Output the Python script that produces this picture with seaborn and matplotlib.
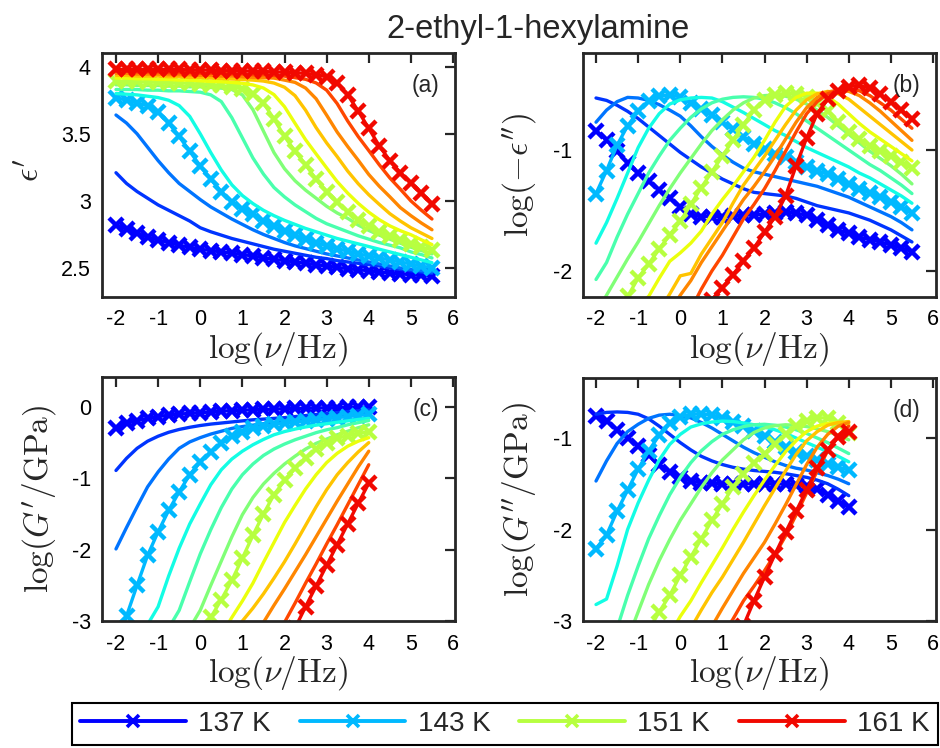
import numpy as np
import pandas as pd
import matplotlib
matplotlib.use("Agg")
import matplotlib.pyplot as plt
import seaborn as sns
from matplotlib.lines import Line2D

NA = np.nan

# ---------------- data ----------------
temperatures = [137, 139, 141, 143, 145, 147, 149, 151, 153, 155, 157, 159, 161]
marked_temperatures = [137, 143, 151, 161]
legend_labels = ["137 K", "143 K", "151 K", "161 K"]

logf_eps = [-2.0, -1.75, -1.5, -1.25, -1.0, -0.75, -0.5, -0.25, 0.0, 0.25, 0.5, 0.75,
            1.0, 1.25, 1.5, 1.75, 2.0, 2.25, 2.5, 2.75, 3.0, 3.25, 3.5, 3.75, 4.0,
            4.25, 4.5, 4.75, 5.0, 5.25, 5.5]
logf_G = [-2.0, -1.75, -1.5, -1.25, -1.0, -0.75, -0.5, -0.25, 0.0, 0.25, 0.5, 0.75,
          1.0, 1.25, 1.5, 1.75, 2.0, 2.25, 2.5, 2.75, 3.0, 3.25, 3.5, 3.75, 4.0]

# (a) eps'
eps1_137 = [2.82, 2.79, 2.76, 2.73, 2.71, 2.69, 2.67, 2.655, 2.64, 2.63, 2.62, 2.61, 2.60, 2.59, 2.575, 2.565,
            2.555, 2.545, 2.535, 2.525, 2.515, 2.505, 2.495, 2.487, 2.48, 2.47, 2.463, 2.457, 2.45, 2.445, 2.44]
eps1_139 = [3.21, 3.13, 3.07, 3.02, 2.97, 2.93, 2.89, 2.85, 2.80, 2.77, 2.745, 2.72, 2.70, 2.68, 2.66, 2.64,
            2.625, 2.61, 2.595, 2.58, 2.57, 2.555, 2.545, 2.535, 2.525, 2.515, 2.50, 2.49, 2.48, 2.47, 2.46]
eps1_141 = [3.64, 3.58, 3.50, 3.40, 3.30, 3.21, 3.13, 3.07, 3.01, 2.955, 2.91, 2.865, 2.825, 2.785, 2.75, 2.72,
            2.69, 2.665, 2.645, 2.625, 2.605, 2.59, 2.575, 2.56, 2.545, 2.53, 2.515, 2.50, 2.49, 2.48, 2.47]
eps1_143 = [3.77, 3.75, 3.73, 3.71, 3.66, 3.58, 3.48, 3.37, 3.26, 3.16, 3.07, 2.99, 2.94, 2.90, 2.85, 2.81,
            2.775, 2.745, 2.715, 2.69, 2.665, 2.645, 2.625, 2.605, 2.59, 2.575, 2.56, 2.545, 2.53, 2.515, 2.50]
eps1_145 = [3.80, 3.795, 3.79, 3.78, 3.77, 3.75, 3.71, 3.63, 3.50, 3.36, 3.23, 3.12, 3.04, 2.98, 2.93, 2.89,
            2.855, 2.825, 2.795, 2.77, 2.745, 2.72, 2.70, 2.68, 2.66, 2.64, 2.62, 2.60, 2.58, 2.56, 2.54]
eps1_147 = [3.83, 3.83, 3.83, 3.825, 3.825, 3.82, 3.82, 3.815, 3.81, 3.79, 3.74, 3.62, 3.47, 3.32, 3.20, 3.10,
            3.03, 2.97, 2.92, 2.87, 2.83, 2.80, 2.77, 2.74, 2.715, 2.69, 2.67, 2.65, 2.62, 2.60, 2.575]
eps1_149 = [3.865, 3.865, 3.86, 3.86, 3.86, 3.855, 3.855, 3.85, 3.85, 3.845, 3.84, 3.83, 3.79, 3.68, 3.52, 3.36,
            3.24, 3.15, 3.08, 3.02, 2.96, 2.91, 2.87, 2.82, 2.78, 2.745, 2.715, 2.685, 2.655, 2.63, 2.605]
eps1_151 = [3.89, 3.89, 3.89, 3.885, 3.885, 3.88, 3.88, 3.875, 3.87, 3.865, 3.86, 3.85, 3.835, 3.80, 3.73, 3.61,
            3.48, 3.37, 3.27, 3.16, 3.07, 2.99, 2.92, 2.86, 2.81, 2.77, 2.74, 2.71, 2.68, 2.655, 2.635]
eps1_153 = [3.915, 3.915, 3.91, 3.91, 3.905, 3.905, 3.90, 3.90, 3.895, 3.89, 3.888, 3.883, 3.876, 3.864, 3.841,
            3.792, 3.702, 3.578, 3.456, 3.35, 3.246, 3.144, 3.058, 2.982, 2.916, 2.86, 2.814, 2.778, 2.748,
            2.71, 2.675]
eps1_155 = [3.935, 3.935, 3.93, 3.93, 3.93, 3.925, 3.925, 3.92, 3.92, 3.915, 3.912, 3.908, 3.904, 3.90, 3.893,
            3.878, 3.847, 3.784, 3.676, 3.546, 3.432, 3.33, 3.222, 3.128, 3.046, 2.974, 2.905, 2.85, 2.80,
            2.76, 2.72]
eps1_157 = [3.95, 3.95, 3.945, 3.945, 3.945, 3.94, 3.94, 3.94, 3.935, 3.935, 3.93, 3.93, 3.925, 3.92, 3.918,
            3.915, 3.90, 3.883, 3.841, 3.761, 3.639, 3.513, 3.405, 3.303, 3.197, 3.109, 3.031, 2.95, 2.89,
            2.835, 2.785]
eps1_159 = [3.965, 3.965, 3.96, 3.96, 3.96, 3.955, 3.955, 3.955, 3.95, 3.95, 3.95, 3.945, 3.945, 3.94, 3.94,
            3.935, 3.93, 3.918, 3.906, 3.879, 3.825, 3.725, 3.595, 3.479, 3.375, 3.269, 3.171, 3.087, 3.0,
            2.93, 2.865]
eps1_161 = [3.98, 3.98, 3.98, 3.98, 3.98, 3.98, 3.98, 3.975, 3.975, 3.975, 3.97, 3.97, 3.97, 3.965, 3.965,
            3.96, 3.96, 3.955, 3.95, 3.94, 3.925, 3.88, 3.79, 3.67, 3.54, 3.41, 3.30, 3.21, 3.135, 3.06, 2.98]

# (b) log(-eps'')
eps2_137 = [-0.84, -0.92, -1.01, -1.11, -1.19, -1.26, -1.33, -1.40, -1.47, -1.53, -1.55, -1.55, -1.55, -1.545,
            -1.54, -1.535, -1.53, -1.52, -1.515, -1.52, -1.54, -1.58, -1.62, -1.66, -1.69, -1.72, -1.74, -1.76,
            -1.785, -1.81, -1.84]
eps2_139 = [-0.57, -0.59, -0.63, -0.68, -0.74, -0.81, -0.88, -0.95, -1.02, -1.08, -1.14, -1.19, -1.24, -1.28,
            -1.32, -1.35, -1.36, -1.37, -1.38, -1.40, -1.43, -1.46, -1.48, -1.50, -1.52, -1.55, -1.58, -1.62,
            -1.66, -1.71, -1.76]
eps2_141 = [-0.77, -0.67, -0.60, -0.565, -0.57, -0.59, -0.625, -0.67, -0.72, -0.80, -0.89, -0.97, -1.04, -1.10,
            -1.15, -1.18, -1.20, -1.22, -1.24, -1.26, -1.28, -1.30, -1.33, -1.36, -1.39, -1.43, -1.47, -1.51,
            -1.55, -1.60, -1.66]
eps2_143 = [-1.36, -1.17, -0.96, -0.80, -0.68, -0.595, -0.555, -0.545, -0.56, -0.61, -0.66, -0.71, -0.77, -0.83,
            -0.89, -0.95, -0.99, -1.03, -1.06, -1.10, -1.14, -1.17, -1.20, -1.24, -1.28, -1.32, -1.355, -1.39,
            -1.43, -1.47, -1.52]
eps2_145 = [-1.77, -1.60, -1.40, -1.19, -0.98, -0.82, -0.70, -0.62, -0.585, -0.57, -0.565, -0.57, -0.60, -0.645,
            -0.69, -0.74, -0.79, -0.84, -0.88, -0.93, -0.98, -1.02, -1.06, -1.10, -1.14, -1.19, -1.23, -1.28,
            -1.33, -1.38, -1.44]
eps2_147 = [-2.07, -1.93, -1.72, -1.53, -1.36, -1.19, -1.05, -0.92, -0.82, -0.73, -0.66, -0.61, -0.58, -0.565,
            -0.56, -0.565, -0.58, -0.61, -0.65, -0.70, -0.76, -0.82, -0.88, -0.94, -1.0, -1.06, -1.12, -1.17,
            -1.23, -1.29, -1.36]
eps2_149 = [-2.35, -2.20, -2.05, -1.90, -1.76, -1.61, -1.46, -1.32, -1.19, -1.07, -0.95, -0.84, -0.75, -0.67,
            -0.61, -0.57, -0.55, -0.545, -0.555, -0.58, -0.62, -0.67, -0.73, -0.80, -0.87, -0.94, -1.01, -1.07,
            -1.13, -1.20, -1.28]
eps2_151 = [NA, NA, -2.33, -2.21, -2.06, -1.94, -1.82, -1.70, -1.59, -1.45, -1.31, -1.18, -1.05, -0.92, -0.79,
            -0.67, -0.585, -0.545, -0.53, -0.535, -0.56, -0.61, -0.68, -0.77, -0.85, -0.91, -0.97, -1.01, -1.05,
            -1.10, -1.15]
eps2_153 = [NA, NA, NA, NA, -2.28, -2.21, -2.06, -1.92, -1.85, -1.77, -1.67, -1.53, -1.41, -1.30, -1.18, -1.06,
            -0.92, -0.77, -0.64, -0.565, -0.53, -0.53, -0.56, -0.62, -0.70, -0.78, -0.85, -0.91, -0.97, -1.03,
            -1.09]
eps2_155 = [NA, NA, NA, NA, NA, NA, -2.33, -2.19, -2.04, -2.02, -1.86, -1.73, -1.60, -1.44, -1.29, -1.17, -1.05,
            -0.92, -0.79, -0.67, -0.585, -0.535, -0.515, -0.535, -0.58, -0.65, -0.72, -0.79, -0.86, -0.93, -1.0]
eps2_157 = [NA, NA, NA, NA, NA, NA, NA, -2.34, -2.20, -2.08, -1.93, -1.80, -1.67, -1.54, -1.41, -1.30, -1.18,
            -1.05, -0.91, -0.77, -0.65, -0.565, -0.52, -0.505, -0.515, -0.55, -0.61, -0.68, -0.76, -0.84, -0.92]
eps2_159 = [NA, NA, NA, NA, NA, NA, NA, NA, NA, -2.32, -2.15, -2.0, -1.87, -1.72, -1.57, -1.45, -1.32, -1.17,
            -1.01, -0.85, -0.70, -0.60, -0.535, -0.505, -0.495, -0.51, -0.55, -0.61, -0.67, -0.745, -0.82]
eps2_161 = [NA, NA, NA, NA, NA, NA, NA, NA, NA, NA, -2.32, -2.24, -2.14, -2.03, -1.92, -1.81, -1.68, -1.55, -1.38,
            -1.13, -0.90, -0.70, -0.58, -0.51, -0.475, -0.465, -0.49, -0.54, -0.60, -0.67, -0.74]

# (c) log(G'/GPa)
G1_137 = [-0.29, -0.23, -0.19, -0.16, -0.135, -0.115, -0.10, -0.09, -0.08, -0.07, -0.06, -0.05, -0.045, -0.04,
          -0.035, -0.03, -0.025, -0.02, -0.018, -0.015, -0.012, -0.01, -0.007, -0.003, 0.0]
G1_139 = [-0.89, -0.72, -0.58, -0.48, -0.41, -0.355, -0.315, -0.285, -0.26, -0.24, -0.225, -0.21, -0.195, -0.18,
          -0.17, -0.16, -0.15, -0.135, -0.12, -0.105, -0.09, -0.08, -0.065, -0.055, -0.04]
G1_141 = [-1.99, -1.69, -1.40, -1.12, -0.91, -0.73, -0.58, -0.49, -0.43, -0.38, -0.34, -0.30, -0.275, -0.255,
          -0.235, -0.215, -0.195, -0.18, -0.165, -0.15, -0.135, -0.12, -0.105, -0.09, -0.075]
G1_143 = [-3.35, -2.93, -2.50, -2.08, -1.75, -1.45, -1.19, -0.95, -0.77, -0.63, -0.51, -0.41, -0.35, -0.30, -0.27,
          -0.245, -0.225, -0.21, -0.195, -0.18, -0.165, -0.15, -0.135, -0.12, -0.105]
G1_145 = [NA, NA, NA, -3.05, -2.80, -2.37, -1.98, -1.64, -1.36, -1.09, -0.88, -0.73, -0.62, -0.53, -0.455, -0.39,
          -0.345, -0.31, -0.28, -0.255, -0.235, -0.215, -0.195, -0.175, -0.16]
G1_147 = [NA, NA, NA, NA, NA, -3.1, -2.85, -2.45, -2.06, -1.72, -1.41, -1.15, -0.95, -0.80, -0.68, -0.59, -0.52,
          -0.46, -0.41, -0.36, -0.32, -0.29, -0.25, -0.22, -0.19]
G1_149 = [NA, NA, NA, NA, NA, NA, NA, -3.1, -2.85, -2.50, -2.16, -1.82, -1.51, -1.27, -1.08, -0.93, -0.80, -0.69,
          -0.59, -0.51, -0.45, -0.39, -0.34, -0.29, -0.25]
G1_151 = [NA, NA, NA, NA, NA, NA, NA, NA, -3.2, -2.95, -2.70, -2.43, -2.12, -1.80, -1.50, -1.23, -1.03, -0.86,
          -0.71, -0.59, -0.50, -0.44, -0.40, -0.37, -0.35]
G1_153 = [NA, NA, NA, NA, NA, NA, NA, NA, NA, NA, -3.2, -2.95, -2.72, -2.47, -2.18, -1.90, -1.62, -1.38, -1.15,
          -0.95, -0.78, -0.65, -0.55, -0.48, -0.43]
G1_155 = [NA, NA, NA, NA, NA, NA, NA, NA, NA, NA, NA, -3.2, -3.0, -2.82, -2.62, -2.40, -2.17, -1.92, -1.66, -1.40,
          -1.16, -0.95, -0.78, -0.63, -0.50]
G1_157 = [NA, NA, NA, NA, NA, NA, NA, NA, NA, NA, NA, NA, NA, -3.26, -3.02, -2.78, -2.55, -2.31, -2.07, -1.82,
          -1.57, -1.32, -1.08, -0.84, -0.62]
G1_159 = [NA, NA, NA, NA, NA, NA, NA, NA, NA, NA, NA, NA, NA, NA, NA, -3.28, -3.02, -2.75, -2.47, -2.20, -1.92,
          -1.65, -1.37, -1.09, -0.81]
G1_161 = [NA, NA, NA, NA, NA, NA, NA, NA, NA, NA, NA, NA, NA, NA, NA, NA, -3.39, -3.1, -2.80, -2.51, -2.22, -1.93,
          -1.64, -1.35, -1.07]

# (d) log(G''/GPa)
G2_137 = [-0.76, -0.81, -0.91, -1.00, -1.09, -1.19, -1.29, -1.37, -1.43, -1.47, -1.49, -1.495, -1.50, -1.50, -1.50,
          -1.50, -1.50, -1.50, -1.505, -1.51, -1.52, -1.56, -1.62, -1.69, -1.75]
G2_139 = [-0.74, -0.72, -0.715, -0.72, -0.74, -0.79, -0.87, -0.96, -1.05, -1.13, -1.20, -1.25, -1.29, -1.32,
          -1.34, -1.355, -1.365, -1.375, -1.39, -1.41, -1.43, -1.46, -1.50, -1.56, -1.63]
G2_141 = [-1.47, -1.25, -1.06, -0.93, -0.85, -0.785, -0.75, -0.74, -0.755, -0.78, -0.83, -0.89, -0.96, -1.03,
          -1.10, -1.16, -1.21, -1.26, -1.30, -1.33, -1.35, -1.38, -1.41, -1.45, -1.50]
G2_143 = [-2.21, -2.06, -1.80, -1.57, -1.34, -1.14, -0.97, -0.84, -0.765, -0.74, -0.735, -0.75, -0.78, -0.82,
          -0.87, -0.92, -0.98, -1.04, -1.10, -1.15, -1.20, -1.245, -1.28, -1.32, -1.35]
G2_145 = [-2.82, -2.76, -2.40, -2.00, -1.71, -1.46, -1.24, -1.07, -0.96, -0.88, -0.845, -0.825, -0.815, -0.82,
          -0.835, -0.855, -0.88, -0.91, -0.95, -1.0, -1.05, -1.10, -1.15, -1.20, -1.26]
G2_147 = [NA, NA, -3.08, -2.72, -2.40, -2.10, -1.85, -1.62, -1.43, -1.27, -1.14, -1.04, -0.96, -0.91, -0.875,
          -0.855, -0.85, -0.86, -0.88, -0.91, -0.95, -1.0, -1.05, -1.11, -1.17]
G2_149 = [NA, NA, NA, -3.2, -2.90, -2.60, -2.34, -2.11, -1.90, -1.72, -1.54, -1.38, -1.24, -1.13, -1.02, -0.94,
          -0.89, -0.865, -0.855, -0.86, -0.875, -0.90, -0.93, -0.97, -1.02]
G2_151 = [NA, NA, NA, NA, NA, -3.1, -2.90, -2.72, -2.50, -2.30, -2.10, -1.90, -1.72, -1.54, -1.39, -1.27, -1.17,
          -1.06, -0.96, -0.87, -0.81, -0.78, -0.78, -0.84, -0.94]
G2_153 = [NA, NA, NA, NA, NA, NA, NA, -3.15, -2.95, -2.78, -2.58, -2.39, -2.20, -2.00, -1.81, -1.63, -1.46, -1.30,
          -1.15, -1.03, -0.93, -0.87, -0.84, -0.83, -0.85]
G2_155 = [NA, NA, NA, NA, NA, NA, NA, NA, -3.4, -3.08, -2.88, -2.69, -2.52, -2.33, -2.14, -1.94, -1.74, -1.55,
          -1.36, -1.18, -1.03, -0.93, -0.86, -0.83, -0.82]
G2_157 = [NA, NA, NA, NA, NA, NA, NA, NA, NA, NA, -3.3, -3.06, -2.86, -2.67, -2.48, -2.31, -2.14, -1.94, -1.73,
          -1.51, -1.29, -1.10, -0.96, -0.87, -0.83]
G2_159 = [NA, NA, NA, NA, NA, NA, NA, NA, NA, NA, NA, -3.35, -3.15, -2.98, -2.78, -2.62, -2.45, -2.27, -2.07,
          -1.84, -1.60, -1.36, -1.14, -0.97, -0.87]
G2_161 = [NA, NA, NA, NA, NA, NA, NA, NA, NA, NA, NA, NA, NA, -3.3, -3.05, -2.78, -2.52, -2.27, -2.03, -1.80,
          -1.57, -1.33, -1.13, -0.99, -0.93]

panel_a = [eps1_137, eps1_139, eps1_141, eps1_143, eps1_145, eps1_147, eps1_149, eps1_151, eps1_153, eps1_155,
           eps1_157, eps1_159, eps1_161]
panel_b = [eps2_137, eps2_139, eps2_141, eps2_143, eps2_145, eps2_147, eps2_149, eps2_151, eps2_153, eps2_155,
           eps2_157, eps2_159, eps2_161]
panel_c = [G1_137, G1_139, G1_141, G1_143, G1_145, G1_147, G1_149, G1_151, G1_153, G1_155, G1_157, G1_159, G1_161]
panel_d = [G2_137, G2_139, G2_141, G2_143, G2_145, G2_147, G2_149, G2_151, G2_153, G2_155, G2_157, G2_159, G2_161]

for arr in panel_a + panel_b:
    assert len(arr) == len(logf_eps), len(arr)
for arr in panel_c + panel_d:
    assert len(arr) == len(logf_G), len(arr)

# ---------------- style ----------------
sns.set_theme(style="white")
plt.rcParams["font.family"] = ["Liberation Sans", "DejaVu Sans"]
plt.rcParams["mathtext.fontset"] = "cm"
plt.rcParams["axes.unicode_minus"] = False

colors = plt.cm.jet(np.linspace(0.11, 0.90, len(temperatures)))
SPINE = "#262626"

fig = plt.figure(figsize=(9.4, 7.48), dpi=100)

W, H = 940.0, 748.0


def add_axes(x0, x1, y0, y1):
    return fig.add_axes([x0 / W, 1 - y1 / H, (x1 - x0) / W, (y1 - y0) / H])


ax_a = add_axes(102, 455, 53, 297)
ax_b = add_axes(583, 936, 53, 297)
ax_c = add_axes(102, 455, 377, 621)
ax_d = add_axes(583, 936, 378, 621)


def draw(ax, x, series):
    for T, y, c in zip(temperatures, series, colors):
        df = pd.DataFrame({"logf": x, "val": y}).dropna()
        if T in marked_temperatures:
            sns.lineplot(data=df, x="logf", y="val", ax=ax, color=c, linewidth=2.4,
                         marker="x", markersize=9.5, markeredgewidth=3.2, markeredgecolor=c,
                         estimator=None, sort=False, legend=False)
        else:
            sns.lineplot(data=df, x="logf", y="val", ax=ax, color=c, linewidth=2.4,
                         estimator=None, sort=False, legend=False)


draw(ax_a, logf_eps, panel_a)
draw(ax_b, logf_eps, panel_b)
draw(ax_c, logf_G, panel_c)
draw(ax_d, logf_G, panel_d)

xt = [-2, -1, 0, 1, 2, 3, 4, 5, 6]
xtl = ["-2", "-1", "0", "1", "2", "3", "4", "5", "6"]
xlabel = r"$\log(\nu/\mathrm{Hz})$"

setup = [
    (ax_a, (-2.332, 6.047), (2.284, 4.102), [2.5, 3, 3.5, 4], ["2.5", "3", "3.5", "4"],
     r"$\epsilon'$", "(a)", -0.2, 0.52),
    (ax_b, (-2.309, 6.071), (-2.215, -0.198), [-2, -1], ["-2", "-1"],
     r"$\log(-\epsilon'')$", "(b)", -0.18, 0.5),
    (ax_c, (-2.332, 6.047), (-3.0, 0.42), [-3, -2, -1, 0], ["-3", "-2", "-1", "0"],
     r"$\log(G'/\mathrm{GPa})$", "(c)", -0.178, 0.5),
    (ax_d, (-2.309, 6.071), (-3.0, -0.344), [-3, -2, -1], ["-3", "-2", "-1"],
     r"$\log(G''/\mathrm{GPa})$", "(d)", -0.18, 0.5),
]

for ax, xl, yl, yt, ytl, ylab, tag, lx, ly in setup:
    ax.set_xlim(*xl)
    ax.set_ylim(*yl)
    ax.set_xticks(xt, labels=xtl)
    ax.set_yticks(yt, labels=ytl)
    ax.tick_params(direction="in", length=7, width=1.6, top=True, right=True,
                   labelsize=15.5, color=SPINE, labelcolor="black")
    ax.tick_params(axis="x", pad=9)
    ax.tick_params(axis="y", pad=8)
    for s in ax.spines.values():
        s.set_linewidth(2.0)
        s.set_color(SPINE)
    ax.set_xlabel(xlabel, fontsize=24)
    ax.set_ylabel(ylab, fontsize=24)
    ax.xaxis.label.set_va("center")
    ax.yaxis.label.set_va("center")
    ax.xaxis.set_label_coords(0.5, -0.215)
    ax.yaxis.set_label_coords(lx, ly)
    ax.text(0.917, 0.868, tag, transform=ax.transAxes, ha="center", va="center", fontsize=16.5)

fig.text(0.572, 0.96, "2-ethyl-1-hexylamine", ha="center", va="center", fontsize=23.5)

handles = []
for T, lab in zip(marked_temperatures, legend_labels):
    c = colors[temperatures.index(T)]
    handles.append(Line2D([0], [0], color=c, linewidth=2.8, marker="x", markersize=8,
                          markeredgewidth=2.6, markeredgecolor=c))
leg = fig.legend(handles, legend_labels, ncol=4, loc="center",
                 bbox_to_anchor=(72 / W, 0.0, 866 / W, 48 / H), mode="expand",
                 borderaxespad=0.0, fontsize=20, handlelength=3.8, handletextpad=0.45,
                 frameon=True, fancybox=False, framealpha=1.0, edgecolor="black",
                 borderpad=0.3)
leg.get_frame().set_linewidth(1.5)

fig.savefig("out.png", dpi=100)
